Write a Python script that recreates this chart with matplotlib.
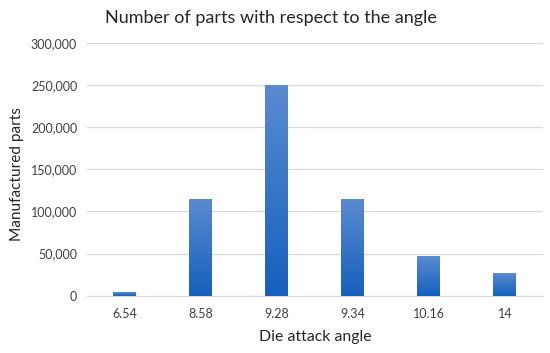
import numpy as np
import matplotlib
matplotlib.use("Agg")
import matplotlib.pyplot as plt
from matplotlib.colors import LinearSegmentedColormap
from matplotlib.ticker import FuncFormatter

angles = ['6.54', '8.58', '9.28', '9.34', '10.16', '14']
parts = [4500, 115000, 250000, 115000, 47000, 26500]
yticks = [0, 50000, 100000, 150000, 200000, 250000, 300000]

plt.rcParams['font.family'] = ['Lato', 'DejaVu Sans']

fig = plt.figure(figsize=(5.5, 3.53), dpi=100)
ax = fig.add_axes([0.158, 0.162, 0.829, 0.717])

x = np.arange(len(angles))
bars = ax.bar(x, parts, width=0.3, color='#2a6cc0', zorder=2)

# vertical gradient inside each bar: lighter at top, darker at bottom
cmap = LinearSegmentedColormap.from_list('bar', ['#1560bd', '#5a8bd0'])
grad = np.linspace(0, 1, 256).reshape(-1, 1)
for b in bars:
    x0, y0 = b.get_x(), b.get_y()
    w, h = b.get_width(), b.get_height()
    im = ax.imshow(grad, cmap=cmap, aspect='auto', origin='lower',
                   extent=[x0, x0 + w, y0, y0 + h], zorder=3)
    im.set_clip_path(b)

ax.set_xlim(-0.5, len(angles) - 0.5)
ax.set_ylim(0, 300000)
ax.set_xticks(x, angles)
ax.set_yticks(yticks)
ax.yaxis.set_major_formatter(FuncFormatter(lambda v, p: f'{int(v):,}'))
ax.grid(axis='y', color='#d9d9d9', linewidth=0.9, zorder=0)
for s in ['top', 'right', 'left']:
    ax.spines[s].set_visible(False)
ax.spines['bottom'].set_color('#d9d9d9')
ax.tick_params(length=0, labelsize=9, colors='#404040')
ax.tick_params(axis='y', pad=7)
ax.tick_params(axis='x', pad=9)

fig.text(0.493, 0.948, 'Number of parts with respect to the angle', fontsize=13,
         color='#262626', ha='center', va='center')
ax.set_xlabel('Die attack angle', fontsize=11.4, color='#262626', labelpad=7)
ax.set_ylabel('Manufactured parts', fontsize=11.1, color='#262626')
ax.yaxis.set_label_coords(-0.138, 0.48)

fig.savefig('out.png', dpi=100)
